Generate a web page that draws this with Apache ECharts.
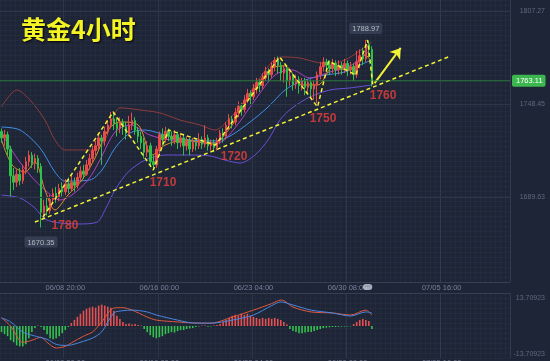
<!DOCTYPE html>
<html><head><meta charset="utf-8">
<script src="https://cdn.jsdelivr.net/npm/echarts@6/dist/echarts.min.js"></script>
<style>html,body{margin:0;padding:0;background:#1e2537;}#c{width:550px;height:361px;}</style>
</head><body><div id="c"></div>
<script>
// ---- data ----
const slotCount = 168;
const tickSlots = [21, 52, 83, 114, 145];
const tickLabels = ['06/08 20:00', '06/16 00:00', '06/23 04:00', '06/30 08:00', '07/05 16:00'];
const priceTicks = [1689.63, 1748.45, 1807.27];
const macdTicks = [13.70923, -13.70923];
const lastPrice = 1763.11;
// [open, close, low, high]
const candles = [
[1731,1727,1724,1733],[1727,1729,1722,1732],[1729,1720,1716,1731],[1720,1703,1690,1722],[1703,1699,1694,1708],
[1699,1704,1696,1707],[1704,1700,1697,1708],[1700,1707,1698,1710],[1707,1712,1704,1715],[1712,1716,1709,1719],
[1716,1711,1708,1718],[1711,1714,1707,1717],[1714,1709,1705,1716],[1709,1680,1670.35,1711],[1680,1684,1676,1688],
[1684,1681,1678,1689],[1681,1688,1679,1691],[1688,1692,1685,1695],[1692,1689,1686,1696],[1689,1695,1687,1698],
[1695,1693,1690,1699],[1693,1698,1691,1701],[1698,1695,1692,1702],[1695,1699,1693,1703],[1699,1697,1693,1702],
[1697,1702,1695,1705],[1702,1706,1700,1709],[1706,1704,1701,1710],[1704,1710,1703,1713],[1710,1714,1707,1717],
[1714,1719,1712,1722],[1719,1722,1716,1725],[1722,1727,1720,1730],[1727,1725,1710,1729],[1725,1731,1722,1734],
[1731,1735,1729,1738],[1735,1739,1733,1743.4],[1739,1736,1732,1743],[1736,1733,1728,1740],[1733,1737,1730,1740],
[1737,1734,1729,1739],[1734,1730,1726,1737],[1730,1735,1728,1741],[1735,1738,1732,1743],[1738,1732,1729,1740],
[1732,1728,1724,1734],[1728,1724,1720,1731],[1724,1718,1714,1727],[1718,1722,1715,1725],[1722,1712,1709,1724],
[1712,1710,1707,1716],[1710,1720,1708,1722],[1720,1729,1717,1731],[1729,1726,1722,1733],[1726,1731,1724,1734],
[1731,1728,1725,1733],[1728,1726,1722,1731],[1726,1729,1723,1732],[1729,1724,1720,1731],[1724,1727,1721,1730],
[1727,1722,1716,1729],[1722,1725,1719,1728],[1725,1720,1716,1727],[1720,1724,1718,1727],[1724,1722,1719,1726],
[1722,1726,1720,1730],[1726,1723,1720,1728],[1723,1727,1721,1735],[1727,1722,1719,1729],[1722,1724,1719,1726],
[1724,1721,1718,1726],[1721,1725,1719,1727],[1725,1730,1723,1732],[1730,1728,1724,1733],[1728,1735,1726,1737],
[1735,1739,1732,1742],[1739,1737,1733,1741],[1737,1743,1735,1746],[1743,1747,1740,1750],[1747,1745,1741,1749],
[1745,1751,1743,1754],[1751,1755,1749,1758],[1755,1753,1748,1757],[1753,1758,1751,1761],[1758,1762,1755,1765],
[1762,1760,1756,1764],[1760,1765,1758,1768],[1765,1769,1763,1772],[1769,1767,1763,1771],[1767,1772,1765,1775],
[1772,1776,1769,1778],[1776,1773,1768,1778.5],[1773,1768,1763,1775],[1768,1771,1762,1773],[1771,1763,1753,1773],
[1763,1766,1760,1769],[1766,1761,1757,1768],[1761,1764,1758,1767],[1764,1760,1755,1766],[1760,1763,1757,1765],
[1763,1759,1754,1765],[1759,1762,1755,1764],[1762,1758,1753,1764],[1758,1761,1751,1763],[1761,1767,1749,1769],
[1767,1772,1764,1775],[1772,1775,1769,1778],[1775,1773,1769,1777],[1773,1771,1767,1776],[1771,1774,1768,1777],
[1774,1770,1766,1776],[1770,1773,1767,1776],[1773,1771,1767,1775],[1771,1774,1768,1777],[1774,1770,1766,1776],
[1770,1772,1767,1775],[1772,1767,1763,1774],[1767,1775,1765,1782],[1775,1779,1771,1783],[1779,1777,1773,1784],
[1777,1786,1775,1788.97],[1786,1783,1778,1788],[1783,1763.11,1759.5,1785]
];
// indicator lines sampled as [slot, price]
const bbUpper = [[0,1746.6],[5,1757.3],[9.4,1751],[14.3,1738.3],[17.6,1725.7],[20.9,1719.4],[25.9,1719.4],[30.8,1719.4],[34.1,1725.7],[36.7,1739.6],[39,1746],[45.6,1744.7],[52.2,1742.8],[58.8,1738.3],[65.4,1735.2],[70.3,1732],[75.3,1739.6],[80.2,1751],[85.1,1764.9],[89.1,1775],[92.4,1778.2],[98.3,1777.5],[103.3,1775],[108.2,1773.7],[113.1,1776.3],[117.4,1781.3],[122,1787.7]];
const bbLower = [[0,1690.9],[6.1,1689],[11,1682.7],[14.3,1675.7],[19.3,1673.2],[25.9,1672.6],[31.5,1673.8],[34.1,1681.4],[37.4,1694.1],[41.7,1705.4],[47.3,1713],[53.9,1716.2],[62.1,1716.2],[68.7,1715.6],[73.6,1713],[78.6,1711.1],[83.5,1716.2],[87.8,1725.7],[91.7,1738.3],[95.7,1745.9],[101.6,1752.9],[108.2,1757.3],[114.8,1758.6],[122,1760.5]];
const bbMiddle = [[0,1733.9],[6.1,1732],[12.7,1720.6],[17.6,1705.4],[20.9,1699.7],[29.1,1700.4],[33.1,1706.7],[37.4,1720.6],[42.3,1730.1],[47.3,1732],[53.9,1728.8],[62.1,1725.7],[70.3,1725.1],[75.3,1728.2],[81.9,1737.1],[87.8,1746.5],[93.4,1757.3],[98.3,1762.4],[104.9,1766.2],[113.1,1768.7],[118.1,1773.1],[122,1776.3]];
const ma10 = [[0,1730.1],[4.4,1716.2],[9.4,1703.5],[14.3,1694.1],[19.3,1687.7],[23.2,1690.9],[28.5,1700.4],[32.4,1713],[37.4,1730.7],[42.3,1735.2],[48.9,1728.8],[55.5,1725.7],[65.4,1724.4],[71.3,1723.8],[76.9,1733.3],[83.5,1751],[90.1,1766.8],[95.7,1770],[101.6,1764.9],[108.2,1768.7],[114.8,1772.5],[120.7,1781.3]];
const ma5 = [[0,1725.7],[3.5,1709.9],[7.7,1705.4],[11,1711.8],[14.3,1694.1],[17.6,1681.4],[21.9,1690.9],[26.5,1700.4],[30.8,1714.3],[35.1,1732],[39,1737.1],[45,1735.2],[49.6,1716.2],[53.9,1722.5],[60.4,1725.7],[69.3,1723.1],[75.3,1733.3],[81.9,1754.1],[89.1,1771.2],[93.4,1772.5],[99,1760.5],[104.3,1760.5],[108.9,1771.2],[114.8,1770],[119.7,1779.5],[122,1775]];
// MACD histogram per bar
const macdHist = [
-3,-4,-5,-7,-8,-9.5,-10,-10,-9,-6,
-3,-1,0.3,-0.5,
-2,-4,-6,-6.5,-6,-5,-3.5,-2,
-0.5,1.5,3,4.5,6,7.5,
8.5,9,9.5,9,10,10.5,10,9.5,
9,7.5,5,3.5,2,
1,1.2,0.8,1,0.5,0.3,
-1.5,-3,-4.5,-5.5,-6,-5.5,-5,-4,-3.5,-3,-3.2,-2.5,-2,-2,-1.5,-1.2,-1,
-0.5,-0.3,0.3,0.2,-0.4,-0.3,0.3,0.5,
1,2,3,4,5,5.5,5,6,5.5,6,5,4.5,4,3.5,4,3.5,4,3.5,4,3.5,
3,2,0.8,
-1.5,-2.5,-3,-3.5,-3.5,-3.2,-3,-3,-2.5,-2,-1.5,
-1,-0.8,-0.6,-0.5,-0.5,-0.4,-0.3,-0.3,-0.2,-0.2,
1,2,3,3.5,3,2.5,
-1.5
];
const macdDif = [[0,4],[3,0],[7,-8],[10,-7],[13,-5.5],[15,-8],[18,-10.8],[21,-10],[23,-8.3],[27,-5],[30,-2.9],[33,2],[37,8.8],[40,9],[43,7.8],[48,4.4],[51,2.9],[58,2],[63,1.5],[69,1.4],[76,4.4],[83,7.8],[89,11],[92,12.7],[93,12.5],[96,9.3],[102,6.9],[109,6.4],[115,5.4],[120,7.8],[122,5.4]];
const macdDea = [[0,4],[3,2],[7,-3],[10,-4.5],[13,-5.7],[15,-6.5],[18,-9],[21,-9.5],[23,-9.3],[27,-7.5],[30,-5.9],[33,-2.9],[37,6.4],[40,7.5],[43,7.8],[48,6.9],[51,5.4],[58,2.9],[63,1.5],[69,1.4],[76,2.9],[83,5.4],[89,10],[92,11.8],[96,10.3],[102,7.8],[109,6.4],[115,4.9],[120,6.9],[122,6.4]];
// annotations [slot, price]
const zigzag = [[13.7,1677],[36.8,1743.4],[50,1706.7],[55,1732],[70.5,1722.5],[91.6,1778.2],[104.1,1746.6],[107.8,1775.6],[116.7,1766.8],[120.6,1788.9],[122.3,1760.5]];
const trendLine = [[11,1673.8],[148,1778.8]];
const arrowLine = [[122.9,1761.7],[131.5,1783.9]];
const levelLabels = [
  {name:'1780', value:[20.9,1671.3]},
  {name:'1710', value:[53.2,1698.5]},
  {name:'1720', value:[76.6,1714.9]},
  {name:'1750', value:[105.9,1739]},
  {name:'1760', value:[125.7,1753.5]}
];
const extremeHigh = [120, 1788.97];
const extremeLow = [13, 1670.35];
const nowMarker = [120.6, 1635.9];

// ---- chart ----
const categories = Array.from({length: slotCount}, (_, i) => {
  const k = tickSlots.indexOf(i); return k >= 0 ? tickLabels[k] : '';
});
const isTick = (i) => tickSlots.indexOf(i) >= 0;
const UP = '#ec4a4a', DOWN = '#2fc24b', YEL = '#f2f236';
const gridLineColor = '#2e364a';
const meshColor = 'rgba(150,170,210,0.04)';
const chart = echarts.init(document.getElementById('c'), null, {renderer: 'canvas'});
const lineS = (data, color) => ({type:'line', xAxisIndex:2, yAxisIndex:0, data, symbol:'none', smooth:0.3,
  lineStyle:{color, width:1}, silent:true, z:3});
const meshAxis = (gridIndex, max) => ({type:'value', gridIndex, min:0, max, interval:1, silent:true,
  axisLine:{show:false}, axisTick:{show:false}, axisLabel:{show:false},
  splitLine:{show:true, lineStyle:{color:meshColor, width:1}}});
chart.setOption({
  animation: false,
  backgroundColor: '#1e2537',
  title: {text:'黄金4小时', left:16, top:12,
    textStyle:{color:'#f4f424', fontSize:25, fontWeight:'bold', fontFamily:'Noto Sans CJK SC',
      textShadowColor:'rgba(0,0,0,0.9)', textShadowBlur:2, textShadowOffsetX:1, textShadowOffsetY:1}},
  grid: [
    {left:0, right:40, top:0, height:282, outerBoundsMode:'none', containLabel:false},
    {left:0, right:40, top:293, height:65, outerBoundsMode:'none', containLabel:false}
  ],
  xAxis: [
    {type:'category', gridIndex:0, data:categories, boundaryGap:true,
      axisLine:{show:true, lineStyle:{color:'#363e52'}}, axisTick:{show:false},
      axisLabel:{interval:(i)=>isTick(i), color:'#77809a', fontSize:7.5, margin:1.5, fontFamily:'Liberation Sans'},
      splitLine:{show:true, interval:(i)=>isTick(i), lineStyle:{color:gridLineColor}}},
    {type:'category', gridIndex:1, data:categories, boundaryGap:true,
      axisLine:{show:false}, axisTick:{show:false},
      axisLabel:{interval:(i)=>isTick(i), color:'#77809a', fontSize:7.5, margin:1, fontFamily:'Liberation Sans'},
      splitLine:{show:true, interval:(i)=>isTick(i), lineStyle:{color:gridLineColor}}},
    {type:'value', gridIndex:0, min:-0.5, max:slotCount-0.5, show:false},
    {type:'value', gridIndex:1, min:-0.5, max:slotCount-0.5, show:false, position:'top'},
    meshAxis(0, 102),
    meshAxis(1, 102)
  ],
  yAxis: [
    {type:'value', gridIndex:0, position:'right', min:1635.9, max:1814.2, scale:true,
      axisLine:{show:false}, axisTick:{show:false}, splitLine:{show:false},
      axisLabel:{customValues:priceTicks, formatter:(v)=>v.toFixed(2), color:'#5f687c', fontSize:7, align:'right', margin:35, fontFamily:'Liberation Sans'}},
    {type:'value', gridIndex:1, position:'right', min:-15.7, max:16.2,
      axisLine:{show:false}, axisTick:{show:false}, splitLine:{show:false},
      axisLabel:{customValues:macdTicks, formatter:(v)=>v.toFixed(5), color:'#5f687c', fontSize:7, align:'right', margin:35, fontFamily:'Liberation Sans'}},
    meshAxis(0, 56),
    meshAxis(1, 13)
  ],
  series: [
    {type:'line', xAxisIndex:0, yAxisIndex:0, data:[], silent:true,
      markLine:{silent:true, symbol:'none', label:{show:false},
        lineStyle:{color:gridLineColor, type:'solid', width:1},
        data: priceTicks.map(v => ({yAxis:v}))}},
    {type:'line', xAxisIndex:1, yAxisIndex:1, data:[], silent:true,
      markLine:{silent:true, symbol:'none', label:{show:false},
        lineStyle:{color:'#363e52', type:'solid', width:1},
        data: [{yAxis:16.2}]}},
    {type:'line', xAxisIndex:2, yAxisIndex:0, silent:true, z:5, symbol:'none',
      data:[[-0.5, lastPrice], [slotCount-0.5, lastPrice]],
      lineStyle:{color:'#2b7a3c', width:1},
      endLabel:{show:true, distance:2, color:'#ffffff', fontSize:7.5, fontFamily:'Liberation Sans',
        backgroundColor:'#3cb64e', padding:[2,3,2,4], borderRadius:2, formatter:(p)=>p.value[1].toFixed(2)}},
    lineS(bbUpper, '#8e3c3c'),
    lineS(bbLower, '#6a4fd2'),
    lineS(bbMiddle, '#3f8fe6'),
    lineS(ma10, '#b23fc6'),
    lineS(ma5, '#e2902c'),
    {type:'candlestick', xAxisIndex:0, yAxisIndex:0, data:candles, barWidth:2, z:4,
      itemStyle:{color:UP, color0:DOWN, borderColor:UP, borderColor0:DOWN, borderWidth:1}},
    {type:'line', xAxisIndex:2, yAxisIndex:0, data:zigzag, symbol:'none', z:6, silent:true,
      lineStyle:{color:YEL, width:1.5, type:[4,3]}},
    {type:'line', xAxisIndex:2, yAxisIndex:0, data:trendLine, symbol:'none', z:6, silent:true,
      lineStyle:{color:YEL, width:1.5, type:[4,3]}},
    {type:'line', xAxisIndex:2, yAxisIndex:0, data:[], z:7, silent:true,
      markLine:{silent:true, symbol:['none','arrow'], symbolSize:10, label:{show:false},
        lineStyle:{color:YEL, width:2, type:'solid'},
        data:[[{coord:arrowLine[0]},{coord:arrowLine[1]}]]}},
    {type:'scatter', xAxisIndex:2, yAxisIndex:0, data:levelLabels, symbolSize:0, z:8, silent:true,
      label:{show:true, position:'inside', formatter:'{b}', color:'#e8403c', fontSize:12, fontWeight:'bold', fontFamily:'Liberation Sans'}},
    {type:'scatter', xAxisIndex:2, yAxisIndex:0, symbolSize:0, z:8, silent:true,
      data:[{value:extremeHigh, label:{position:'top', distance:6}}, {value:extremeLow, label:{position:'bottom', distance:9}}],
      label:{show:true, formatter:(p)=>p.value[1].toFixed(2), color:'#d4d8e0', fontSize:7.5, fontFamily:'Liberation Sans',
        backgroundColor:'#3a4358', padding:[2,3,1,3], borderRadius:2}},
    {type:'scatter', xAxisIndex:2, yAxisIndex:0, symbolSize:0, z:9, silent:true, clip:false,
      data:[{value:nowMarker}],
      label:{show:true, position:'inside', offset:[0,5], formatter:'•••', color:'#7d8494', fontSize:5,
        backgroundColor:'#c9ced8', padding:[1,2,0,2], borderRadius:3}},
    {type:'bar', xAxisIndex:1, yAxisIndex:1, data:macdHist, barWidth:1.6, silent:true,
      itemStyle:{color:(p)=> p.value >= 0 ? '#e65050' : '#33c24c'}},
    {type:'line', xAxisIndex:3, yAxisIndex:1, data:macdDif, symbol:'none', smooth:0.3, silent:true,
      lineStyle:{color:'#e0583c', width:1}},
    {type:'line', xAxisIndex:3, yAxisIndex:1, data:macdDea, symbol:'none', smooth:0.3, silent:true,
      lineStyle:{color:'#4a86e0', width:1}}
  ]
});
</script></body></html>
